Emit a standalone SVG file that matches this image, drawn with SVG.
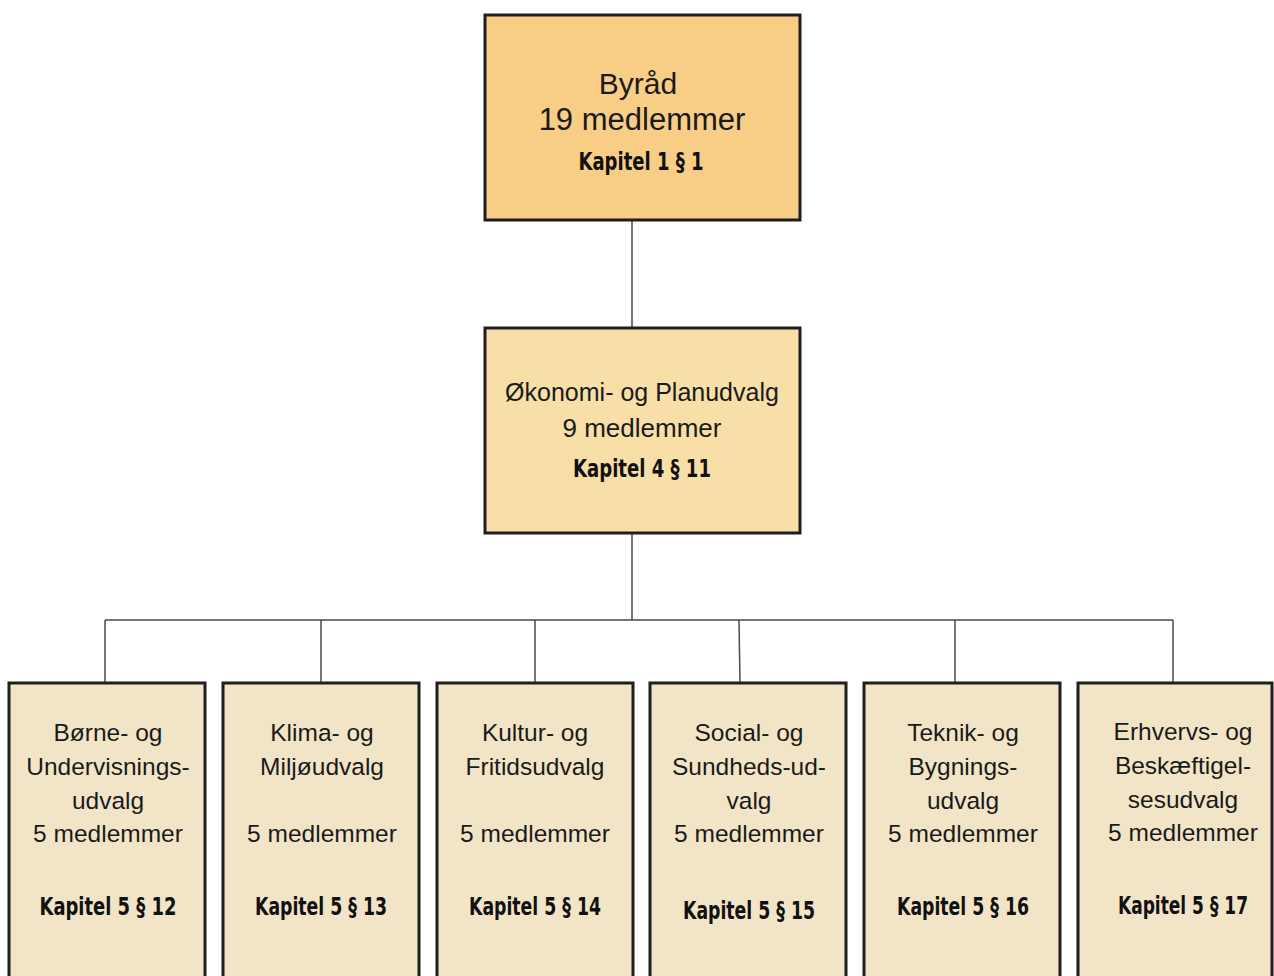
<svg xmlns="http://www.w3.org/2000/svg" width="1274" height="976" viewBox="0 0 1274 976">
<style>
.box{stroke:#1e1e1e;stroke-width:3}
.top{fill:#F8CD86}
.mid{fill:#F8DFA8}
.sub{fill:#F2E5C7}
.t{font-family:"Liberation Sans",Arial,sans-serif;fill:#1a1a1a;text-anchor:middle}
.k{font-family:"DejaVu Sans Condensed","DejaVu Sans",sans-serif;font-stretch:condensed;font-weight:bold;fill:#111;text-anchor:middle;font-size:24px}
.c{stroke:#4a4a4a;stroke-width:1.5;fill:none}
</style>
<rect width="1274" height="976" fill="#ffffff"/>
<g id="connectors">
<path class="c" d="M632,220 V328 M632,533 V620 M105,620 H1173 M105,620 V683 M321,620 V683 M535,620 V683 M739,620 L740,683 M955,620 V683 M1173,620 V683"/>
</g>
<g id="byraad">
<rect class="box top" x="485" y="15" width="315" height="205"/>
<text class="t" x="638" y="94" font-size="30">Byråd</text>
<text class="t" x="642" y="130" font-size="31">19 medlemmer</text>
<text class="k" x="641" y="170" textLength="125" lengthAdjust="spacingAndGlyphs">Kapitel 1 § 1</text>
</g>
<g id="oekonomi">
<rect class="box mid" x="485" y="328" width="315" height="205"/>
<text class="t" x="642" y="401" font-size="25">Økonomi- og Planudvalg</text>
<text class="t" x="642" y="437" font-size="26">9 medlemmer</text>
<text class="k" x="642" y="477" textLength="138" lengthAdjust="spacingAndGlyphs">Kapitel 4 § 11</text>
</g>
<g id="boerne">
<rect class="box sub" x="9" y="683" width="196" height="310"/>
<text class="t" x="108" y="741" font-size="24.5">Børne- og</text>
<text class="t" x="108" y="775" font-size="24.5">Undervisnings-</text>
<text class="t" x="108" y="809" font-size="24.5">udvalg</text>
<text class="t" x="108" y="842" font-size="24.5">5 medlemmer</text>
<text class="k" x="108" y="915" textLength="137" lengthAdjust="spacingAndGlyphs">Kapitel 5 §  12</text>
</g>
<g id="klima">
<rect class="box sub" x="223" y="683" width="196" height="310"/>
<text class="t" x="322" y="741" font-size="24.5">Klima- og</text>
<text class="t" x="322" y="775" font-size="24.5">Miljøudvalg</text>
<text class="t" x="322" y="842" font-size="24.5">5 medlemmer</text>
<text class="k" x="321" y="915" textLength="132" lengthAdjust="spacingAndGlyphs">Kapitel 5 § 13</text>
</g>
<g id="kultur">
<rect class="box sub" x="437" y="683" width="196" height="310"/>
<text class="t" x="535" y="741" font-size="24.5">Kultur- og</text>
<text class="t" x="535" y="775" font-size="24.5">Fritidsudvalg</text>
<text class="t" x="535" y="842" font-size="24.5">5 medlemmer</text>
<text class="k" x="535" y="915" textLength="132" lengthAdjust="spacingAndGlyphs">Kapitel 5 § 14</text>
</g>
<g id="social">
<rect class="box sub" x="650" y="683" width="196" height="310"/>
<text class="t" x="749" y="741" font-size="24.5">Social- og</text>
<text class="t" x="749" y="775" font-size="24.5">Sundheds-ud-</text>
<text class="t" x="749" y="809" font-size="24.5">valg</text>
<text class="t" x="749" y="842" font-size="24.5">5 medlemmer</text>
<text class="k" x="749" y="919" textLength="132" lengthAdjust="spacingAndGlyphs">Kapitel 5 § 15</text>
</g>
<g id="teknik">
<rect class="box sub" x="864" y="683" width="196" height="310"/>
<text class="t" x="963" y="741" font-size="24.5">Teknik- og</text>
<text class="t" x="963" y="775" font-size="24.5">Bygnings-</text>
<text class="t" x="963" y="809" font-size="24.5">udvalg</text>
<text class="t" x="963" y="842" font-size="24.5">5 medlemmer</text>
<text class="k" x="963" y="915" textLength="132" lengthAdjust="spacingAndGlyphs">Kapitel 5 § 16</text>
</g>
<g id="erhverv">
<rect class="box sub" x="1078" y="683" width="194" height="310"/>
<text class="t" x="1183" y="740" font-size="24.5">Erhvervs- og</text>
<text class="t" x="1183" y="774" font-size="24.5">Beskæftigel-</text>
<text class="t" x="1183" y="808" font-size="24.5">sesudvalg</text>
<text class="t" x="1183" y="841" font-size="24.5">5 medlemmer</text>
<text class="k" x="1183" y="914" textLength="130" lengthAdjust="spacingAndGlyphs">Kapitel 5 § 17</text>
</g>
</svg>
